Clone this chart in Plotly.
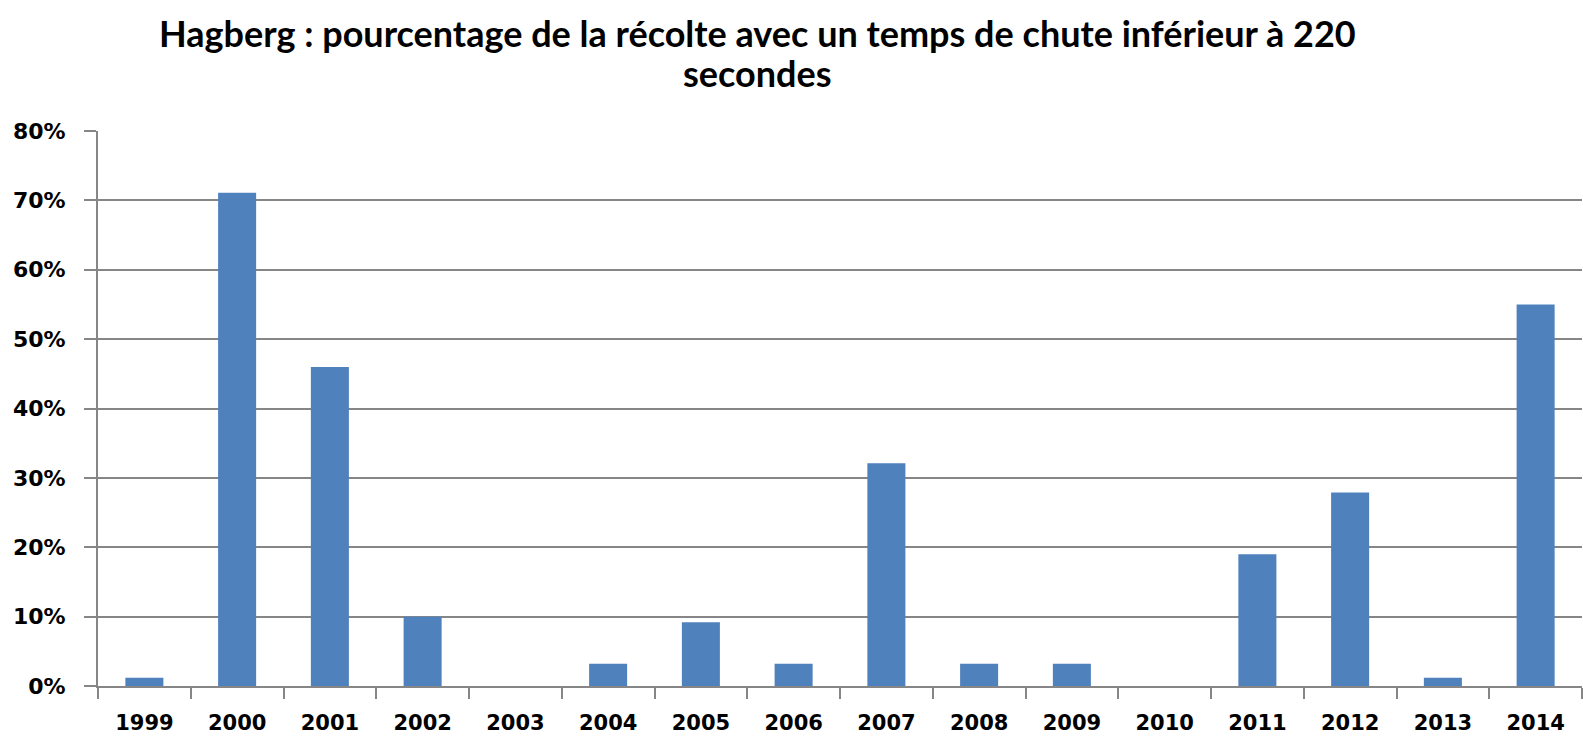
import plotly.graph_objects as go

years = ["1999", "2000", "2001", "2002", "2003", "2004", "2005", "2006",
         "2007", "2008", "2009", "2010", "2011", "2012", "2013", "2014"]
pct = [0.012, 0.711, 0.46, 0.10, 0.0, 0.032, 0.092, 0.032,
       0.321, 0.032, 0.032, 0.0, 0.19, 0.279, 0.012, 0.55]
ytick_vals = [0, 0.1, 0.2, 0.3, 0.4, 0.5, 0.6, 0.7, 0.8]
ytick_text = ["0%", "10%", "20%", "30%", "40%", "50%", "60%", "70%", "80%"]
title_line1 = "Hagberg : pourcentage de la récolte avec un temps de chute inférieur à 220"
title_line2 = "secondes"

fig = go.Figure(go.Bar(x=years, y=pct, marker=dict(color="#4F81BD", line=dict(width=0))))

title_font = dict(family="Lato", size=36, color="black", weight="bold")
fig.add_annotation(text=title_line1, xref="paper", yref="paper", x=0.4447, y=1.177,
                   xanchor="center", yanchor="middle", showarrow=False, font=title_font)
fig.add_annotation(text=title_line2, xref="paper", yref="paper", x=0.4447, y=1.104,
                   xanchor="center", yanchor="middle", showarrow=False, font=title_font)

fig.update_layout(
    width=1583, height=739,
    paper_bgcolor="white", plot_bgcolor="white",
    margin=dict(l=98, r=1, t=131, b=53),
    bargap=0.59,
    showlegend=False,
    font=dict(family="DejaVu Sans", color="black"),
)
fig.update_xaxes(
    type="category", tickson="boundaries", ticks="outside", ticklen=11, tickwidth=2,
    tickcolor="#868686", showline=True, linecolor="#868686", linewidth=2,
    showgrid=False, tickfont=dict(family="DejaVu Sans", size=21, color="black", weight="bold"),
    ticklabelstandoff=17,
)
fig.update_yaxes(
    range=[0, 0.8], tickvals=ytick_vals, ticktext=ytick_text,
    ticks="outside", ticklen=12, tickwidth=2, tickcolor="#868686",
    showline=True, linecolor="#868686", linewidth=2,
    showgrid=True, gridcolor="#868686", gridwidth=2, zeroline=False,
    tickfont=dict(family="DejaVu Sans", size=22, color="black", weight="bold"),
    ticklabelstandoff=14,
)

fig.write_html("out.html", config={"displayModeBar": False},
               post_script="document.body.style.margin='0';document.body.style.overflow='hidden';")
